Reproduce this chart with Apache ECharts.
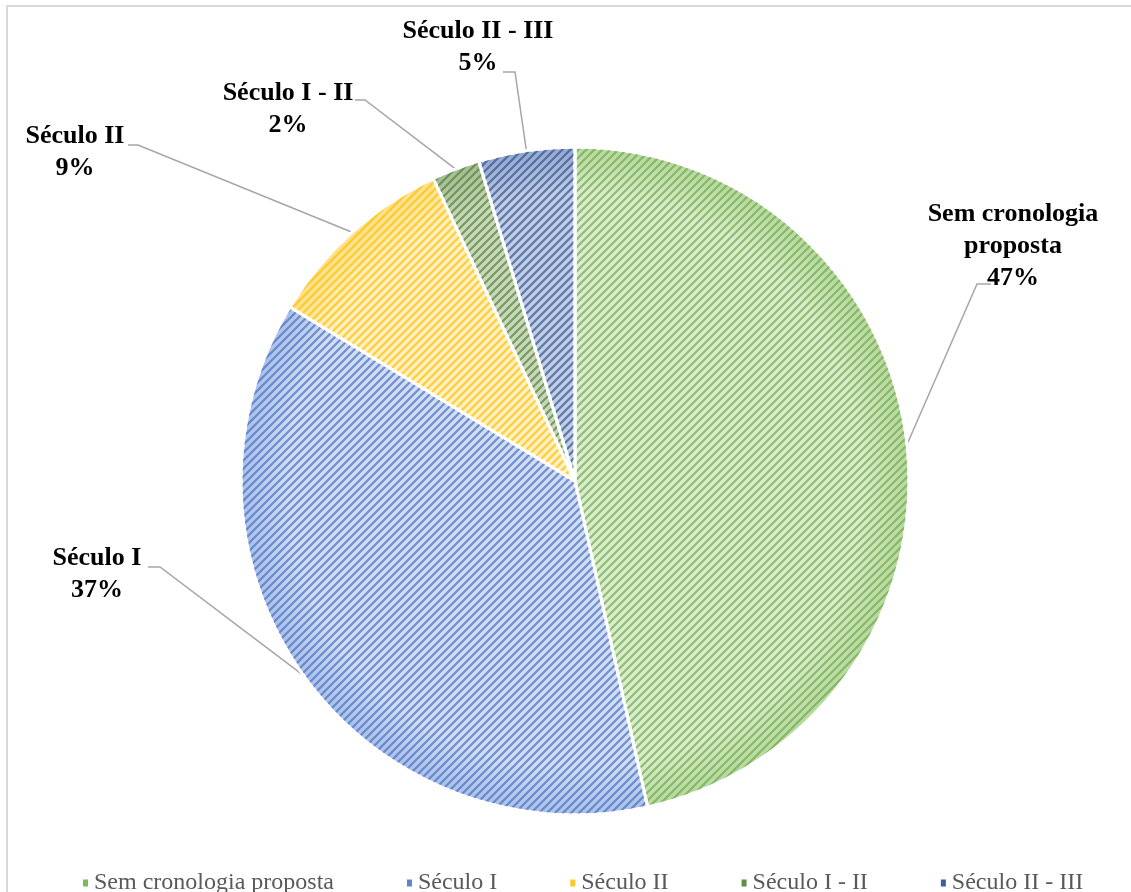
<!DOCTYPE html>
<html>
<head>
<meta charset="utf-8">
<script src="https://cdn.jsdelivr.net/npm/echarts@6/dist/echarts.min.js"></script>
<style>html,body{margin:0;padding:0;background:#fff;}#c{width:1131px;height:892px;}</style>
</head>
<body>
<div id="c"></div>
<script>
// ---- data ----
const categories = ['Sem cronologia proposta', 'Século I', 'Século II', 'Século I - II', 'Século II - III'];
const labelNames = ['Sem cronologia\nproposta', 'Século I', 'Século II', 'Século I - II', 'Século II - III'];
const counts = [20, 16, 4, 1, 2];

// ---- styles ----
const stripeColors = ['#6fac46', '#4472c4', '#ffc000', '#548235', '#2f5597'];
const baseLight = ['#dcecd0', '#d3ddf2', '#fff0c2', '#c9d8bd', '#c3cde2'];
const baseEdge = ['#b6d79f', '#abbfe8', '#ffdf85', '#a3bb92', '#95a7cb'];
const legendColors = ['#7cb957', '#5a86d0', '#ffc72a', '#5f8d41', '#3a5f9f'];

const total = counts.reduce((a, b) => a + b, 0);

function makePattern(color) {
  const s = 8;
  const c = document.createElement('canvas');
  c.width = s; c.height = s;
  const g = c.getContext('2d');
  g.strokeStyle = color;
  g.globalAlpha = 0.72;
  g.lineWidth = 2.2;
  g.beginPath();
  for (let k = -1; k <= 1; k++) {
    g.moveTo(k * s - 1, s + 1);
    g.lineTo(k * s + s + 1, -1);
  }
  g.stroke();
  return { image: c, repeat: 'repeat' };
}

const CX = 575, CY = 481, R = 334;
const chart = echarts.init(document.getElementById('c'), null, { renderer: 'canvas' });

// label centres and leader-line elbow/end offsets (relative to label centre)
const labelPos = [
  { x: 1013, y: 246, elbow: [-36, 38], end: [-22, 38] },
  { x: 97, y: 574, elbow: [63, -7], end: [51, -7] },
  { x: 75, y: 152, elbow: [63, -7], end: [53, -7] },
  { x: 288, y: 109, elbow: [77, -9], end: [67, -9] },
  { x: 478, y: 47, elbow: [37, 25], end: [25, 25] }
];

// mid angle of each slice (clockwise from 12 o'clock), derived from the data
const midAngles = [];
(function () {
  let acc = 0;
  counts.forEach(v => {
    const a = v / total * 360;
    midAngles.push(acc + a / 2);
    acc += a;
  });
})();

const baseData = categories.map((n, i) => ({
  name: n,
  value: counts[i],
  itemStyle: {
    color: {
      type: 'radial', x: CX, y: CY, r: R, global: true,
      colorStops: [
        { offset: 0, color: baseLight[i] },
        { offset: 0.86, color: baseLight[i] },
        { offset: 1, color: baseEdge[i] }
      ]
    }
  }
}));
const patternData = categories.map((n, i) => ({
  name: n,
  value: counts[i],
  itemStyle: { color: makePattern(stripeColors[i]) }
}));

chart.setOption({
  animation: false,
  backgroundColor: '#fff',
  graphic: [{
    type: 'rect', silent: true,
    shape: { x: 7, y: 6, width: 1300, height: 1000 },
    style: { fill: 'none', stroke: '#d9d9d9', lineWidth: 2 }
  }],
  legend: {
    top: 866,
    left: 76,
    icon: 'rect',
    itemWidth: 7,
    itemHeight: 9,
    itemGap: 71,
    textStyle: { fontFamily: 'Liberation Serif', fontSize: 24, color: '#595959' },
    data: categories.map((n, i) => ({ name: n, itemStyle: { color: legendColors[i] } }))
  },
  series: [{
    type: 'pie',
    center: [CX, CY],
    radius: R,
    startAngle: 90,
    clockwise: true,
    avoidLabelOverlap: false,
    itemStyle: { borderColor: '#fff', borderWidth: 3 },
    label: {
      show: true,
      formatter: p => labelNames[p.dataIndex] + '\n' + Math.round(counts[p.dataIndex] / total * 100) + '%',
      fontFamily: 'Liberation Serif',
      fontWeight: 'bold',
      fontSize: 26,
      lineHeight: 32,
      color: '#000',
      align: 'center'
    },
    labelLine: { show: true, length: 20, length2: 12, lineStyle: { color: '#a6a6a6', width: 1.5 } },
    labelLayout: p => {
      const i = p.dataIndex, L = labelPos[i];
      const rad = midAngles[i] * Math.PI / 180;
      const start = [CX + R * Math.sin(rad), CY - R * Math.cos(rad)];
      return {
        x: L.x, y: L.y, align: 'center', verticalAlign: 'middle',
        labelLinePoints: [start, [L.x + L.elbow[0], L.y + L.elbow[1]], [L.x + L.end[0], L.y + L.end[1]]]
      };
    },
    emphasis: { disabled: true },
    data: baseData
  }, {
    type: 'pie',
    center: [CX, CY],
    radius: R,
    startAngle: 90,
    clockwise: true,
    silent: true,
    itemStyle: { borderColor: '#fff', borderWidth: 3 },
    label: { show: false },
    labelLine: { show: false },
    emphasis: { disabled: true },
    data: patternData
  }]
});
</script>
</body>
</html>
